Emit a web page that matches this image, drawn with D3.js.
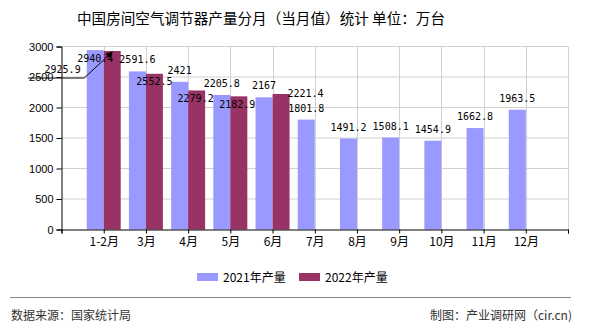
<!DOCTYPE html>
<html>
<head>
<meta charset="utf-8">
<script src="https://cdn.jsdelivr.net/npm/d3@7/dist/d3.min.js"></script>
<style>
  html, body { margin: 0; padding: 0; background: #fff; }
  svg { display: block; }
</style>
</head>
<body>
<svg id="chart" width="590" height="330"></svg>
<script>
// ---- data ----
const months = ["1-2月", "3月", "4月", "5月", "6月", "7月", "8月", "9月", "10月", "11月", "12月"];
const values2021 = [2940.4, 2591.6, 2421, 2205.8, 2167, 1801.8, 1491.2, 1508.1, 1454.9, 1662.8, 1963.5];
const values2022 = [2925.9, 2552.5, 2279.2, 2182.9, 2221.4];
const yTicks = [0, 500, 1000, 1500, 2000, 2500, 3000];
const seriesNames = ["2021年产量", "2022年产量"];
const titleText = "中国房间空气调节器产量分月（当月值）统计 单位：万台";
const sourceText = "数据来源：国家统计局";
const creditText = "制图：产业调研网（cir.cn)";

// ---- styles / layout ----
const colors = ["#9999FF", "#993366"];
const plotL = 61.5, plotR = 568, plotT = 46.5, plotB = 229.5;
const barW = 17;
// label nudges (dx, dy) for labels displaced by the original's collision layout
const nudge2021 = { 0: [0, 20] };
const nudge2022 = { 0: [-49.6, 30], 1: [0, 19.5], 2: [-1, 20], 3: [-1.5, 20], 4: [24.5, 11] };

const svg = d3.select("#chart");

const x = d3.scalePoint()
  .domain(["__start", ...months, "__end"])
  .range([plotL, plotR]);
const y = d3.scaleLinear().domain([0, 3000]).range([plotB, plotT]);

// grid
const grid = svg.append("g");
grid.selectAll("line.h").data(yTicks.filter(d => d > 0)).join("line")
  .attr("x1", plotL).attr("x2", plotR)
  .attr("y1", d => y(d)).attr("y2", d => y(d))
  .attr("stroke", "#d0d0d0").attr("stroke-width", 1);
grid.selectAll("line.v").data([...months, "__end"]).join("line")
  .attr("x1", d => Math.round(x(d)) + 0.5).attr("x2", d => Math.round(x(d)) + 0.5)
  .attr("y1", plotT).attr("y2", plotB)
  .attr("stroke", "#d0d0d0").attr("stroke-width", 1);

// bars
const bars = svg.append("g");
bars.selectAll("rect.a").data(values2021).join("rect")
  .attr("x", (d, i) => x(months[i]) - barW)
  .attr("y", d => y(d))
  .attr("width", barW)
  .attr("height", d => y(0) - y(d))
  .attr("fill", colors[0]);
bars.selectAll("rect.b").data(values2022).join("rect")
  .attr("x", (d, i) => x(months[i]))
  .attr("y", d => y(d))
  .attr("width", barW)
  .attr("height", d => y(0) - y(d))
  .attr("fill", colors[1]);

// axes
const yAxis = svg.append("g")
  .attr("transform", `translate(${plotL},0)`)
  .call(d3.axisLeft(y).tickValues(yTicks).tickSize(5).tickPadding(3).tickFormat(d3.format("d")));
yAxis.select(".domain").attr("stroke", "#000");
yAxis.selectAll(".tick line").attr("stroke", "#000");
yAxis.selectAll("text").attr("font-family", "'Liberation Sans', Arial, sans-serif").attr("font-size", "11px").attr("fill", "#000");

const xAxis = svg.append("g")
  .attr("transform", `translate(0,${plotB})`)
  .call(d3.axisBottom(x).tickSize(4).tickPadding(4)
    .tickFormat(d => d.startsWith("__") ? "" : d));
xAxis.select(".domain").attr("stroke", "#000");
xAxis.selectAll(".tick line").attr("stroke", "#000");
xAxis.selectAll("text").attr("font-family", "'Noto Sans CJK SC', sans-serif").attr("font-size", "12px").attr("fill", "#000");

// data labels
const labelFont = "'DejaVu Sans Mono', 'Liberation Mono', monospace";
const labels = svg.append("g").attr("font-family", labelFont).attr("font-size", "10px").attr("fill", "#000").attr("text-anchor", "middle");
labels.selectAll("text.a").data(values2021).join("text")
  .attr("x", (d, i) => x(months[i]) - barW / 2 + (nudge2021[i] ? nudge2021[i][0] : 0))
  .attr("y", (d, i) => y(d) - 8 + (nudge2021[i] ? nudge2021[i][1] : 0))
  .text(d => d);
labels.selectAll("text.b").data(values2022).join("text")
  .attr("x", (d, i) => x(months[i]) + barW / 2 + (nudge2022[i] ? nudge2022[i][0] : 0))
  .attr("y", (d, i) => y(d) - 8 + (nudge2022[i] ? nudge2022[i][1] : 0))
  .text(d => d);

// leader line for displaced first 2022 label
{
  const tx = x(months[0]) + barW / 2, ty = y(values2022[0]) + 1;
  const ex = tx - 28, ey = ty + 26;
  svg.append("defs").append("marker")
    .attr("id", "arrow").attr("viewBox", "0 0 10 10").attr("refX", 9).attr("refY", 5)
    .attr("markerWidth", 7).attr("markerHeight", 7).attr("orient", "auto")
    .append("path").attr("d", "M0,0 L10,5 L0,10 z").attr("fill", "#000");
  svg.append("path")
    .attr("d", d3.line()([[ex - 56, ey], [ex, ey], [tx, ty]]))
    .attr("fill", "none").attr("stroke", "#000").attr("stroke-width", 1)
    .attr("marker-end", "url(#arrow)");
}

// title
svg.append("text")
  .attr("x", 261).attr("y", 24)
  .attr("text-anchor", "middle")
  .attr("font-family", "'Noto Sans CJK SC', sans-serif")
  .attr("font-size", "14.6px").attr("fill", "#000")
  .text(titleText);

// legend
const legend = svg.append("g").attr("font-family", "'Noto Sans CJK SC', sans-serif").attr("font-size", "12px");
const legendX = [197, 299];
seriesNames.forEach((n, i) => {
  legend.append("rect").attr("x", legendX[i]).attr("y", 273).attr("width", 21).attr("height", 8).attr("fill", colors[i]);
  legend.append("text").attr("x", legendX[i] + 26).attr("y", 281.5).attr("fill", "#000").text(n);
});

// footer
svg.append("line").attr("x1", 10).attr("x2", 571).attr("y1", 297.5).attr("y2", 297.5).attr("stroke", "#888").attr("stroke-width", 1);
svg.append("text").attr("x", 11).attr("y", 320).attr("font-family", "'Noto Sans CJK SC', sans-serif").attr("font-size", "12px").attr("fill", "#333").text(sourceText);
svg.append("text").attr("x", 572).attr("y", 320).attr("text-anchor", "end").attr("font-family", "'Noto Sans CJK SC', sans-serif").attr("font-size", "12px").attr("fill", "#333").text(creditText);
</script>
</body>
</html>
